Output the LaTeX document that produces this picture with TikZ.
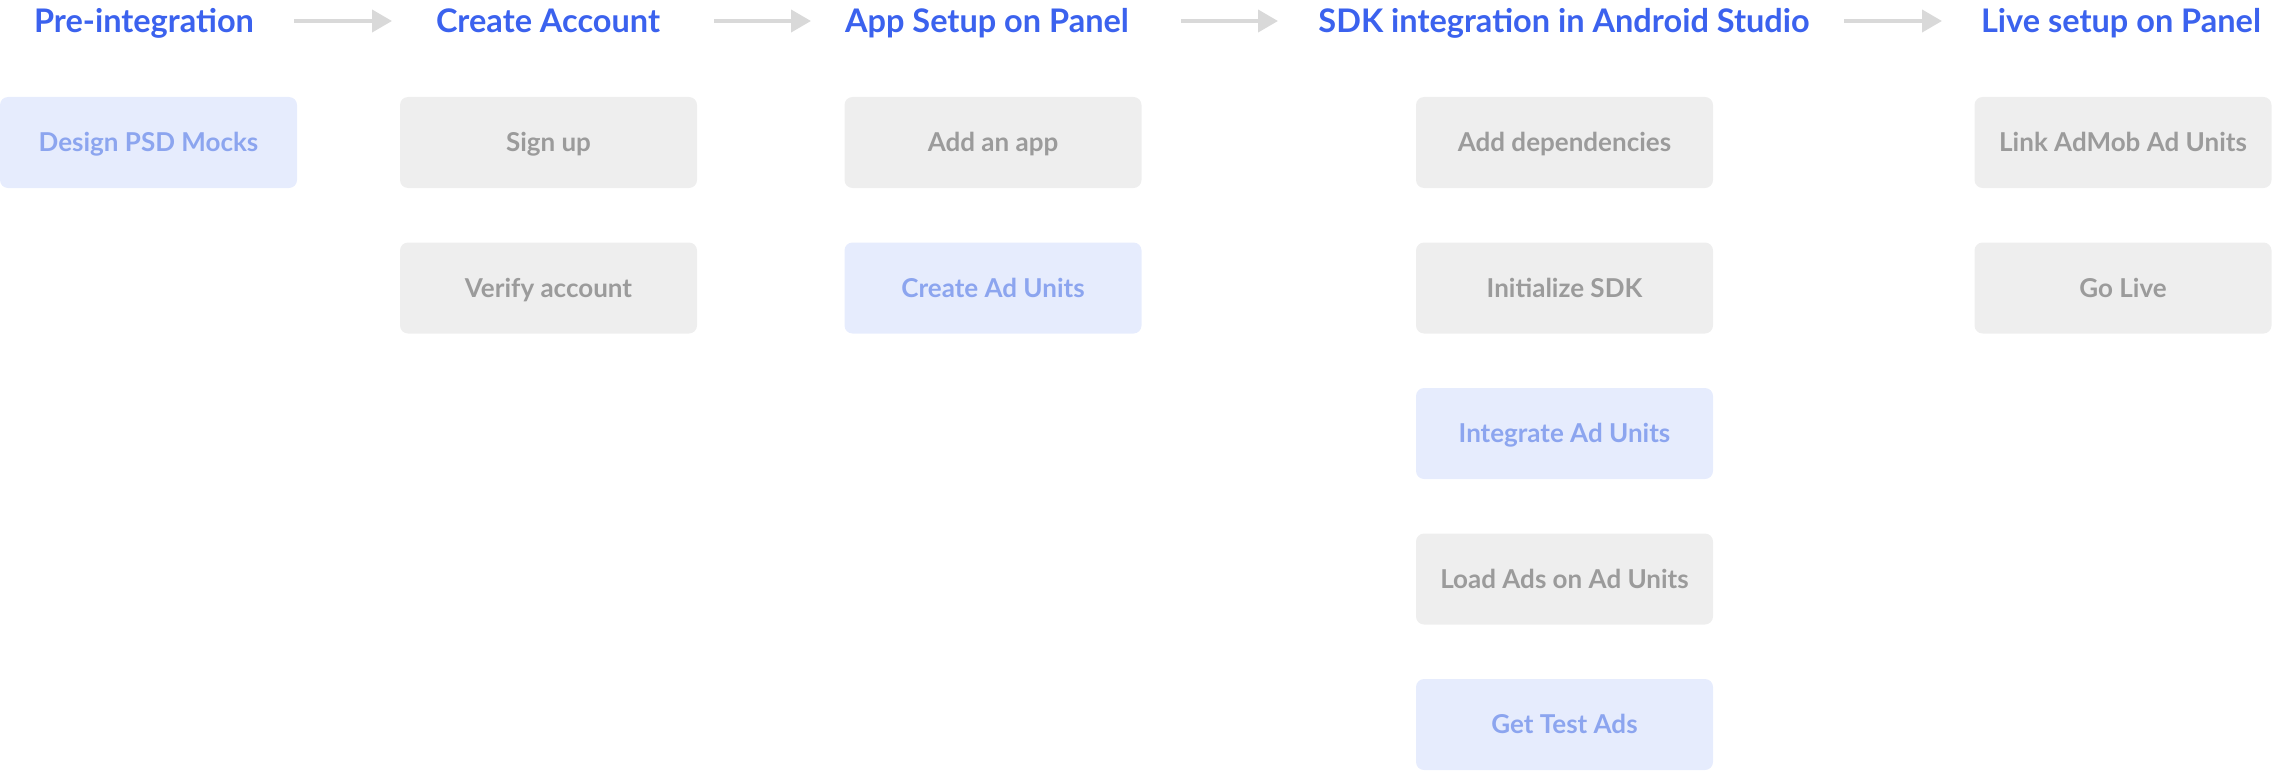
\documentclass[tikz,border=0pt]{standalone}
\usepackage{fontspec}
\setmainfont{Lato}
\usetikzlibrary{arrows.meta}
\definecolor{titleblue}{HTML}{3B62EE}
\definecolor{boxgray}{HTML}{EEEEEE}
\definecolor{txtgray}{HTML}{9B9B9B}
\definecolor{boxblue}{HTML}{E6ECFD}
\definecolor{txtblue}{HTML}{8CA5EF}
\definecolor{arrowgray}{HTML}{D9D9D9}
\begin{document}
\begin{tikzpicture}[x=1bp,y=-1bp,
  title/.style={font=\fontsize{32.5bp}{38bp}\selectfont\bfseries, text=titleblue, inner sep=0pt, anchor=base},
  stepbox/.style={rounded corners=8bp, minimum width=297bp, minimum height=91bp, inner sep=0pt, text height=18.5bp, text depth=0bp, font=\fontsize{26bp}{31bp}\selectfont\bfseries},
  graybox/.style={stepbox, fill=boxgray, text=txtgray},
  bluebox/.style={stepbox, fill=boxblue, text=txtblue},
  flow/.style={line width=4bp, draw=arrowgray, -{Triangle[length=20bp,width=22bp]}}
]
\useasboundingbox (0,0) rectangle (2272,772);
% titles
\node[title] (t1) at (144,32.5) {Pre-integration};
\node[title] (t2) at (548,32.5) {Create Account};
\node[title] (t3) at (987,32.5) {App Setup on Panel};
\node[title] (t4) at (1564,32.5) {SDK integration in Android Studio};
\node[title] (t5) at (2121,32.5) {Live setup on Panel};
% arrows
\coordinate (a1s) at (294,21); \coordinate (a1e) at (392,21);
\coordinate (a2s) at (714,21); \coordinate (a2e) at (811,21);
\coordinate (a3s) at (1181,21); \coordinate (a3e) at (1278,21);
\coordinate (a4s) at (1844,21); \coordinate (a4e) at (1942,21);
\draw[flow] (a1s) -- (a1e);
\draw[flow] (a2s) -- (a2e);
\draw[flow] (a3s) -- (a3e);
\draw[flow] (a4s) -- (a4e);
% column 1
\node[bluebox] (b11) at (148.5,142.5) {Design PSD Mocks};
% column 2
\node[graybox] (b21) at (548.5,142.5) {Sign up};
\node[graybox] (b22) at (548.5,288) {Verify account};
% column 3
\node[graybox] (b31) at (993,142.5) {Add an app};
\node[bluebox] (b32) at (993,288) {Create Ad Units};
% column 4
\node[graybox] (b41) at (1564.5,142.5) {Add dependencies};
\node[graybox] (b42) at (1564.5,288) {Initialize SDK};
\node[bluebox] (b43) at (1564.5,433.5) {Integrate Ad Units};
\node[graybox] (b44) at (1564.5,579) {Load Ads on Ad Units};
\node[bluebox] (b45) at (1564.5,724.5) {Get Test Ads};
% column 5
\node[graybox] (b51) at (2123,142.5) {Link AdMob Ad Units};
\node[graybox] (b52) at (2123,288) {Go Live};
\end{tikzpicture}
\end{document}
